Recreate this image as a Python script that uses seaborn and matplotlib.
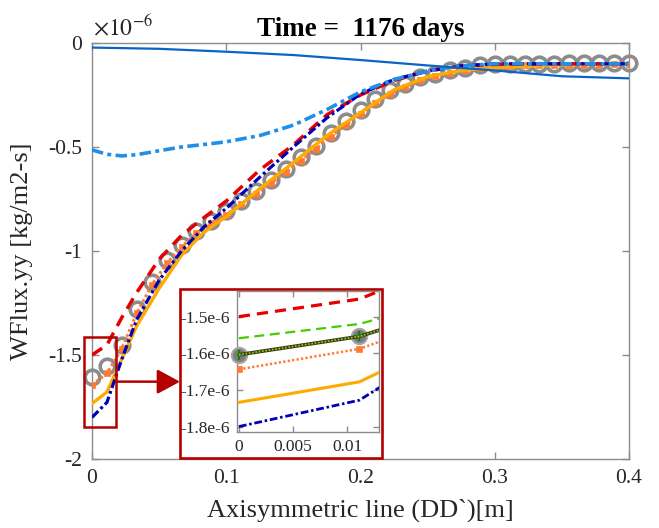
import numpy as np
import pandas as pd
import matplotlib
matplotlib.use('Agg')
import matplotlib.pyplot as plt
import seaborn as sns
from matplotlib.patches import Rectangle
from matplotlib.ticker import FuncFormatter

# mesh points along the line (m), values in units of 1e-6 kg/m2-s
x_mesh = [0.0, 0.0111, 0.0222, 0.0333, 0.0444, 0.0556, 0.0667, 0.0778, 0.0889, 0.1,
          0.1111, 0.1222, 0.1333, 0.1444, 0.1556, 0.1667, 0.1778, 0.1889, 0.2,
          0.2111, 0.2222, 0.2333, 0.2444, 0.2556, 0.2667, 0.2778, 0.2889, 0.3,
          0.3111, 0.3222, 0.3333, 0.3444, 0.3556, 0.3667, 0.3778, 0.3889, 0.4]
flux_ref = [-1.604, -1.554, -1.45, -1.28, -1.15, -1.045, -0.97, -0.905, -0.855, -0.81,
            -0.76, -0.71, -0.66, -0.605, -0.55, -0.495, -0.435, -0.375, -0.32,
            -0.27, -0.228, -0.195, -0.165, -0.147, -0.13, -0.118, -0.107, -0.101,
            -0.1, -0.1, -0.099, -0.099, -0.098, -0.098, -0.097, -0.096, -0.095]
flux_dotted = [-1.644, -1.588, -1.47, -1.30, -1.165, -1.06, -0.98, -0.915, -0.865, -0.825,
               -0.775, -0.725, -0.675, -0.62, -0.565, -0.51, -0.45, -0.395, -0.34,
               -0.29, -0.245, -0.21, -0.18, -0.16, -0.145, -0.13, -0.12, -0.113,
               -0.11, -0.108, -0.107, -0.106, -0.105, -0.104, -0.104, -0.103, -0.103]

x_line = [0.0, 0.0111, 0.0222, 0.0333, 0.05, 0.0667, 0.0833, 0.1, 0.125, 0.15,
          0.175, 0.2, 0.225, 0.25, 0.275, 0.3, 0.35, 0.4]
flux_red = [-1.5, -1.452, -1.32, -1.2, -1.04, -0.925, -0.84, -0.76, -0.61, -0.49,
            -0.345, -0.25, -0.18, -0.135, -0.11, -0.103, -0.1, -0.1]
flux_navy = [-1.8, -1.728, -1.52, -1.33, -1.14, -1.0, -0.885, -0.795, -0.645, -0.5,
             -0.36, -0.245, -0.175, -0.135, -0.11, -0.1, -0.1, -0.1]
flux_orange = [-1.734, -1.678, -1.52, -1.36, -1.18, -1.02, -0.91, -0.835, -0.7, -0.575,
               -0.445, -0.335, -0.225, -0.162, -0.132, -0.118, -0.105, -0.1]
flux_lightblue = [-0.514, -0.535, -0.543, -0.537, -0.518, -0.5, -0.488, -0.475, -0.445, -0.395,
                  -0.32, -0.235, -0.175, -0.135, -0.11, -0.1, -0.1, -0.1]

x_top = [0.0, 0.05, 0.1, 0.15, 0.2, 0.25, 0.3, 0.35, 0.4]
flux_top = [-0.022, -0.028, -0.042, -0.058, -0.082, -0.108, -0.132, -0.16, -0.17]

# only visible in the zoomed inset
x_green = [0.0, 0.0111, 0.0222]
flux_green = [-1.559, -1.52, -1.43]

x_ticks = [0, 0.1, 0.2, 0.3, 0.4]
y_ticks = [-2, -1.5, -1, -0.5, 0]
inset_x_ticks = [0, 0.005, 0.01]
inset_y_ticks = [-1.8, -1.7, -1.6, -1.5]

title_text = 'Time =  1176 days'
xlabel_text = 'Axisymmetric line (DD`)[m]'
ylabel_text = 'WFlux.yy [kg/m2-s]'

C_TOP = '#0a64c8'
C_LIGHT = '#1f8fe8'
C_RED = '#e60000'
C_NAVY = '#0000b4'
C_ORANGE = '#ffaa00'
C_CORAL = '#ff7a33'
C_GRAY = '#8c8c8c'
C_GREEN = '#44cc00'
C_DKGREEN = '#1e4a1e'
C_YELLOW = '#e8a800'
C_BOX = '#b40000'
C_SPINE = '#8c8c8c'
C_TEXT = '#262626'

sns.set_theme(style='ticks')
plt.rcParams['font.family'] = ['Liberation Serif', 'DejaVu Serif']
plt.rcParams['axes.unicode_minus'] = False
plt.rcParams['mathtext.fontset'] = 'stix'


def draw(axis, x, y, **kw):
    sns.lineplot(x=x, y=y, ax=axis, sort=False, errorbar=None, legend=False, **kw)


def style_axes(axis, size, pad):
    for sp in axis.spines.values():
        sp.set_color(C_SPINE)
        sp.set_linewidth(1.0)
    axis.tick_params(direction='in', top=True, right=True, length=5, width=1,
                     colors=C_SPINE, labelcolor=C_TEXT, labelsize=size, pad=pad)


fig = plt.figure(figsize=(6.59, 5.28), dpi=100)
ax = fig.add_axes([0.1396, 0.1307, 0.8149, 0.7879])

draw(ax, x_mesh, flux_ref, color=C_GRAY, ls='', marker='o', ms=10.5, mfc='none',
     mec=C_GRAY, mew=2.6, clip_on=False, zorder=2)
draw(ax, x_mesh, flux_dotted, color=C_CORAL, lw=2.2, ls=(0, (0.9, 0.9)), marker='s',
     ms=4, mfc=C_CORAL, mec=C_CORAL, mew=0.5, zorder=3)
draw(ax, x_line, flux_orange, color=C_ORANGE, lw=2.4, zorder=4)
draw(ax, x_line, flux_red, color=C_RED, lw=2.5, ls=(0, (3.5, 2.2)), zorder=5)
draw(ax, x_line, flux_navy, color=C_NAVY, lw=2.3, ls=(0, (2.8, 1.0, 0.9, 1.0)), zorder=6)
draw(ax, x_line, flux_lightblue, color=C_LIGHT, lw=2.6, ls=(0, (3.2, 1.2, 1.1, 1.2)), zorder=7)
draw(ax, x_top, flux_top, color=C_TOP, lw=1.6, zorder=8)

ax.set_xlim(0, 0.4)
ax.set_ylim(-2, 0)
ax.set_xticks(x_ticks)
ax.set_yticks(y_ticks)
fmt = FuncFormatter(lambda v, p: f'{v:g}')
ax.xaxis.set_major_formatter(fmt)
ax.yaxis.set_major_formatter(fmt)
style_axes(ax, 15.5, 7)

ax.set_title(title_text, fontsize=19.5, fontweight='bold', pad=5, color='black')
ax.set_xlabel(xlabel_text, fontsize=19, color=C_TEXT)
ax.set_ylabel(ylabel_text, fontsize=19, color=C_TEXT)
ax.xaxis.set_label_coords(0.5, -0.094)
ax.yaxis.set_label_coords(-0.11, 0.5)
ax.text(0.002, 1.006, r'$\times10^{-6}$', transform=ax.transAxes, fontsize=17,
        ha='left', va='bottom', color=C_TEXT)

# small box marking the zoomed region, and arrow to the inset
ax.add_patch(Rectangle((-0.006, -1.846), 0.0239, 0.433, fill=False, ec=C_BOX,
                       lw=1.8, clip_on=False, zorder=10))
ax.annotate('', xy=(0.2731, 0.2771), xycoords='figure fraction',
            xytext=(0.0179, -1.628), textcoords='data',
            arrowprops=dict(arrowstyle='-|>,head_length=0.5,head_width=0.27',
                            mutation_scale=28, color=C_BOX, lw=1.8,
                            shrinkA=0, shrinkB=0), zorder=10)

# inset frame and inset axes
frame = Rectangle((0.2731, 0.1326), 0.3066, 0.3201, transform=fig.transFigure,
                  fc='white', ec=C_BOX, lw=1.9, zorder=2)
fig.add_artist(frame)
axi = fig.add_axes([0.3592, 0.1824, 0.2159, 0.2665])
axi.set_zorder(3)

draw(axi, x_line, flux_red, color=C_RED, lw=2.3, ls=(0, (3.5, 2.2)), zorder=3)
draw(axi, x_green, flux_green, color=C_GREEN, lw=1.6, ls=(0, (4.5, 2.5)), zorder=3)
draw(axi, x_mesh, flux_dotted, color=C_CORAL, lw=1.8, ls=(0, (0.9, 0.9)), marker='s',
     ms=4, mfc=C_CORAL, mec=C_CORAL, mew=0.5, zorder=3)
draw(axi, x_line, flux_orange, color=C_ORANGE, lw=2.2, zorder=3)
draw(axi, x_line, flux_navy, color=C_NAVY, lw=2.0, ls=(0, (2.8, 1.0, 0.9, 1.0)), zorder=3)
draw(axi, x_mesh[:2], flux_ref[:2], color=C_GRAY, ls='', marker='o', ms=11,
     mfc='#7d7d7d', mec='#a6a6a6', mew=1.5, clip_on=False, zorder=4)
draw(axi, x_mesh, flux_ref, color=C_DKGREEN, lw=2.6, marker='+', ms=7,
     mec='#1a7a1a', mew=1.6, zorder=5)
draw(axi, x_mesh, flux_ref, color=C_YELLOW, lw=1.2, ls=(0, (1, 1)), zorder=6)

axi.set_xlim(-0.0002, 0.0129)
axi.set_ylim(-1.814, -1.43)
axi.set_xticks(inset_x_ticks)
axi.set_yticks(inset_y_ticks)
axi.xaxis.set_major_formatter(FuncFormatter(lambda v, p: f'{v:g}'))
axi.yaxis.set_major_formatter(FuncFormatter(lambda v, p: f'{v:.1f}e-6'))
style_axes(axi, 12.5, 5)
axi.tick_params(length=4)

fig.savefig('out.png', dpi=100)
